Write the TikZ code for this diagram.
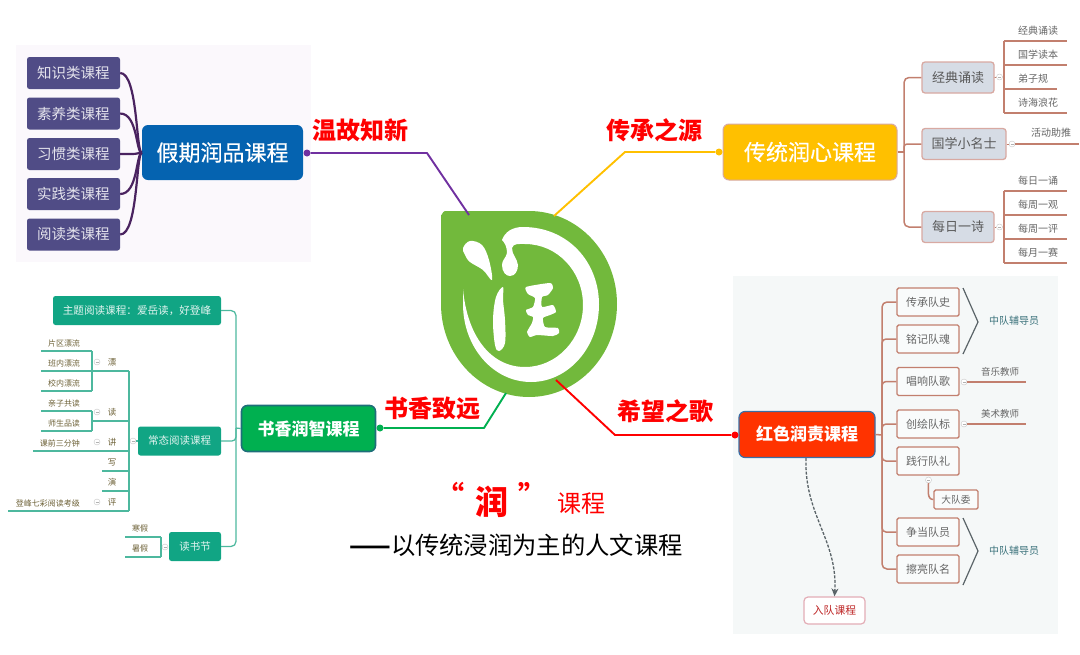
\documentclass[tikz,border=0pt]{standalone}
\usepackage{fontspec}
\setmainfont{Noto Sans CJK SC}
\newfontfamily\brushfont[AutoFakeSlant=0.25]{Noto Sans CJK SC}
\newfontfamily\semifont[FakeBold=0.5]{Noto Sans CJK SC}
\newcommand{\fsz}[1]{\fontsize{#1}{#1}\selectfont}
\definecolor{logogreen}{HTML}{72B93C}
\definecolor{planbg}{HTML}{FBF8FC}
\definecolor{planbox}{HTML}{504C86}
\definecolor{planline}{HTML}{4A2360}
\definecolor{planhub}{HTML}{0563B0}
\definecolor{linkpurple}{HTML}{7030A0}
\definecolor{hubamber}{HTML}{FFC000}
\definecolor{rustline}{HTML}{C27F6E}
\definecolor{rustpale}{HTML}{D8A9A2}
\definecolor{slatebox}{HTML}{D6DCE5}
\definecolor{tealbox}{HTML}{11A584}
\definecolor{tealline}{HTML}{4DB89E}
\definecolor{oliveink}{HTML}{6E6238}
\definecolor{hubgreen}{HTML}{00B050}
\definecolor{hubedge}{HTML}{1F6E7A}
\definecolor{redpanel}{HTML}{F5F8F8}
\definecolor{redhub}{HTML}{FF3300}
\definecolor{redhubedge}{HTML}{3A6EA5}
\definecolor{chevron}{HTML}{5A6468}
\usetikzlibrary{arrows.meta}
\begin{document}
\begin{tikzpicture}[x=1pt, y=-1pt]
    \tikzstyle{hubbox} = [rectangle, rounded corners=6, text=white, inner sep=0, minimum height=46, font=\bfseries\fsz{17}]
    \tikzstyle{motto} = [text=red, inner sep=0, font=\bfseries\fsz{24}]
    \tikzstyle{link} = [line width=1.9, line join=round]
    \tikzstyle{dot} = [circle, inner sep=0, minimum size=7]
    \tikzstyle{plan} = [rectangle, rounded corners=2.5, fill=planbox, text=white!85!planbox, inner sep=0, minimum width=93, minimum height=32, font=\fsz{14.5}]
    \tikzstyle{slate} = [rectangle, rounded corners=3, fill=slatebox, draw=rustpale, line width=1.3, text=black!65, inner sep=0, minimum height=31, font=\fsz{13}]
    \tikzstyle{rust} = [rustline, line width=1.5]
    \tikzstyle{leaf} = [text=black!60, inner sep=0, font=\fsz{10}]
    \tikzstyle{fold} = [circle, draw=gray!45, fill=white, line width=.4, inner sep=0, minimum size=6, path picture={\draw[gray!60, line width=.4] ([xshift=1.5]path picture bounding box.west) -- ([xshift=-1.5]path picture bounding box.east);}]
    \tikzstyle{teal} = [rectangle, rounded corners=2.5, fill=tealbox, text=white!88!tealbox, inner sep=0, minimum height=29, font=\fsz{10.5}]
    \tikzstyle{tline} = [tealline, line width=1.25]
    \tikzstyle{twig} = [text=oliveink, inner sep=0, font=\fsz{8}]
    \tikzstyle{duty} = [rectangle, rounded corners=1.5, draw=rustline, fill=white!40!redpanel, line width=1.4, text=black!60, inner sep=0, minimum width=62, minimum height=28, font=\fsz{11}]
    \tikzstyle{teacher} = [text=black!60, inner sep=0, font=\fsz{9.5}]
    \tikzstyle{tutor} = [text=hubedge!70!gray, inner sep=0, font=\fsz{10}]

    \useasboundingbox (0,0) rectangle (1080,654);
    \fill[planbg] (16,45) rectangle (311,262);
    \fill[redpanel] (733,276) rectangle (1058,634);

    % logo
    \fill[logogreen] (441,304) -- (441,215) to[out=-90, in=180] (445,211) -- (529,211) .. controls (577.6,211) and (617,252.6) .. (617,304) .. controls (617,355.4) and (577.6,397) .. (529,397) .. controls (480.4,397) and (441,355.4) .. (441,304) -- cycle;
    \fill[white] (463,289) -- (463,304) .. controls (463,347) and (493,382) .. (531,382) .. controls (568.5,382) and (599,347) .. (599,304.5) .. controls (599,262) and (568,227) .. (523,227) .. controls (512,227) and (505,232) .. (502,240) .. controls (505,243) and (507,247) .. (507,253) .. controls (506,258) and (502,260) .. (502,265) .. controls (502,272) and (506,276) .. (510,276) .. controls (515,276) and (518,271) .. (518,265) .. controls (517,258) and (512,255) .. (512,248) .. controls (513,243) and (520,244) .. (525,244) .. controls (557,244) and (583,271) .. (583,305) .. controls (583,339) and (557,367) .. (525,367) .. controls (490,367) and (467,335) .. (463,289) -- cycle;
    \fill[white] plot[smooth cycle, tension=.6] coordinates {(463,248) (470,241) (482,245) (489,260) (492,280) (483,270) (470,262) (465,255)};
    \fill[white] plot[smooth cycle, tension=.6] coordinates {(503,287) (496,297) (493,320) (495,345) (499,351) (505,343) (505,320) (503,300)};
    \fill[white] plot[smooth cycle, tension=.35] coordinates {(526,287) (550,283) (553,288) (548,295) (542,297) (542,307) (553,305) (556,312) (550,315) (543,318) (545,327) (558,328) (559,333) (553,336) (537,335) (530,337) (527,332) (532,323) (533,317) (528,315) (526,310) (533,307) (535,298) (528,294)};

    % holiday course
    \node[hubbox, fill=planhub, minimum width=161, minimum height=55, font=\semifont\fsz{22}] (jqhub) at (222.5,152.5) {假期润品课程};
    \foreach \n/\y/\t in {zs/73/知识类课程, sy/113.5/素养类课程, xg/154/习惯类课程, sj/194/实践类课程, yd/234.5/阅读类课程} {
        \node[plan] (\n) at (73.5,\y) {\t};
        \draw[planline, line width=2.2] (jqhub.west) .. controls (136,154) and (138,\y) .. (\n.east);
    }
    \node[dot, fill=linkpurple] (jqdot) at (307,153) {};
    \coordinate (jqbend) at (427,153);
    \coordinate (jqend) at (469,215);
    \draw[link, linkpurple] (jqdot) -- (jqbend) -- (jqend);
    \node[motto] (jqtag) at (360,130) {温故知新};

    % traditional course
    \node[hubbox, fill=hubamber, minimum width=174, minimum height=56, draw=rustpale, line width=1, font=\semifont\fsz{22}] (cthub) at (810,152) {传统润心课程};
    \node[dot, fill=hubamber] (ctdot) at (719,152) {};
    \coordinate (ctbend) at (625,152);
    \coordinate (ctend) at (554,216);
    \draw[link, hubamber] (ctdot) -- (ctbend) -- (ctend);
    \node[motto] (cttag) at (654,130) {传承之源};

    \node[slate, minimum width=72] (jd) at (958,77.5) {经典诵读};
    \node[slate, minimum width=84] (gx) at (964,144) {国学小名士};
    \node[slate, minimum width=72] (mr) at (958,227) {每日一诗};
    \coordinate (cttrunk) at (904,152);
    \draw[rust] (cthub.east) -- (cttrunk);
    \draw[rust, rounded corners=5] (jd.west) -| (cttrunk) |- (mr.west);
    \draw[rust, rounded corners=3] (cttrunk) |- (gx.west);

    \node[fold] (jdfold) at (999.5,77) {};
    \node[fold] (gxfold) at (1012,144) {};
    \node[fold] (mrfold) at (999.5,227) {};
    \draw[rust, line width=.8] (jd.east) -- (jdfold);
    \draw[rust, line width=.8] (gx.east) -- (gxfold);
    \draw[rust, line width=.8] (mr.east) -- (mrfold);

    \coordinate (jdrail) at (1004,77);
    \foreach \n/\y/\xe/\t in {a/41/1067/经典诵读, b/65/1067/国学读本, c/89/1057/弟子规, d/113/1067/诗海浪花} {
        \node[leaf, anchor=west] (jd\n) at (1018,\y-10) {\t};
        \coordinate (jd\n s) at (1004,\y);
        \coordinate (jd\n e) at (\xe,\y);
        \draw[rust] (jd\n s) -- (jd\n e);
    }
    \draw[rust] (jdas) -- (jdds);
    \draw[rust] (jdfold) -- (jdrail);
    \foreach \n/\y/\t in {a/191/每日一诵, b/215/每周一观, c/239/每周一评, d/263/每月一赛} {
        \node[leaf, anchor=west] (mr\n) at (1018,\y-10) {\t};
        \coordinate (mr\n s) at (1004,\y);
        \coordinate (mr\n e) at (1067,\y);
        \draw[rust] (mr\n s) -- (mr\n e);
    }
    \coordinate (mrrail) at (1004,227);
    \draw[rust] (mras) -- (mrds);
    \draw[rust] (mrfold) -- (mrrail);
    \coordinate (gxend) at (1079,144);
    \draw[rust] (gxfold) -- (gxend);
    \node[leaf] (gxleaf) at (1051,133) {活动助推};

    % reading course
    \node[hubbox, fill=hubgreen, draw=hubedge, line width=1.6, minimum width=134] (sxhub) at (308.5,428.5) {书香润智课程};
    \node[dot, fill=hubgreen] (sxdot) at (380,428) {};
    \coordinate (sxbend) at (484,428);
    \coordinate (sxend) at (506,393);
    \draw[link, hubgreen] (sxdot) -- (sxbend) -- (sxend);
    \node[motto] (sxtag) at (432,408) {书香致远};

    \node[teal, minimum width=168, font=\fsz{10.6}] (zt) at (137,310.5) {主题阅读课程：爱岳读，好登峰};
    \node[teal, minimum width=83] (cz) at (179.5,441) {常态阅读课程};
    \node[teal, minimum width=52] (dsj) at (195,546.5) {读书节};
    \coordinate (sxtrunk) at (236,428);
    \draw[tline, rounded corners=5] (zt.east) -| (sxtrunk) |- (dsj.east);
    \draw[tline] (sxhub.west) -- (sxtrunk);
    \draw[tline, rounded corners=4] (cz.east) -| (sxtrunk);

    \node[fold] (czfold) at (133,441) {};
    \coordinate (czrail) at (129,441);
    \draw[tline] (cz.west) -- (czfold) -- (czrail);
    \foreach \n/\y/\xs/\t in {pl/371/92/漂, dd/421/92/读, jj/451/33/讲, xx/471/102/写, yy/491/102/演, pp/511/8/评} {
        \node[twig, font=\fsz{8.5}] (\n) at (112,\y-9) {\t};
        \coordinate (\n s) at (\xs,\y);
        \coordinate (\n e) at (129,\y);
        \draw[tline] (\n s) -- (\n e);
    }
    \draw[tline] (ple) -- (ppe);
    \foreach \n/\y/\t in {pla/351/片区漂流, plb/371/班内漂流, plc/391/校内漂流, dda/411/亲子共读, ddb/431/师生品读} {
        \node[twig] (\n) at (64,\y-8) {\t};
        \coordinate (\n s) at (41,\y);
        \coordinate (\n e) at (92,\y);
        \draw[tline] (\n s) -- (\n e);
    }
    \draw[tline] (plae) -- (plce);
    \draw[tline] (ddae) -- (ddbe);
    \node[twig, anchor=east] (jjleaf) at (80,443) {课前三分钟};
    \node[twig, anchor=east] (ppleaf) at (80,503) {登峰七彩阅读考级};
    \foreach \n/\y in {pl/362, dd/412, jj/442, pp/502} {
        \node[fold] (\n fold) at (97,\y) {};
    }
    \foreach \n/\y/\t in {hj/537/寒假, sj/557/暑假} {
        \node[twig] (\n leaf) at (140,\y-9) {\t};
        \coordinate (\n s) at (125,\y);
        \coordinate (\n e) at (161,\y);
        \draw[tline] (\n s) -- (\n e);
    }
    \draw[tline] (hje) -- (sje);
    \node[fold] (dsjfold) at (165,547) {};

    % red course
    \node[hubbox, fill=redhub, draw=redhubedge, line width=1.2, minimum width=136] (hshub) at (807,434.5) {红色润责课程};
    \node[dot, fill=red] (hsdot) at (735,435) {};
    \coordinate (hsbend) at (615,435);
    \coordinate (hsend) at (556,380);
    \draw[link, red] (hsdot) -- (hsbend) -- (hsend);
    \node[motto] (hstag) at (665,411) {希望之歌};

    \foreach \n/\y/\t in {cc/302/传承队史, mj/339/铭记队魂, cx/381.5/唱响队歌, ch/424/创绘队标, sx/461/践行队礼, zd/532/争当队员, cl/569/擦亮队名} {
        \node[duty] (\n) at (928,\y) {\t};
    }
    \coordinate (hstrunk) at (882,435);
    \draw[rust] (hshub.east) -- (hstrunk);
    \draw[rust, rounded corners=5] (cc.west) -| (hstrunk) |- (cl.west);
    \foreach \n in {mj, cx, ch, sx, zd} {
        \draw[rust, rounded corners=4] (hstrunk) |- (\n.west);
    }
    \coordinate (cvat) at (963,288);
    \coordinate (cvam) at (978,322);
    \coordinate (cvab) at (963,354);
    \coordinate (cvbt) at (963,518);
    \coordinate (cvbm) at (978,551);
    \coordinate (cvbb) at (963,585);
    \draw[chevron, line width=1.2] (cvat) -- (cvam) -- (cvab);
    \draw[chevron, line width=1.2] (cvbt) -- (cvbm) -- (cvbb);
    \node[tutor] (tutora) at (1014,321) {中队辅导员};
    \node[tutor] (tutorb) at (1014,551) {中队辅导员};

    \node[fold] (cxfold) at (964,382) {};
    \node[fold] (chfold) at (964,424) {};
    \coordinate (cxend) at (1026,382);
    \coordinate (chend) at (1026,424);
    \draw[rust] (cxfold) -- (cxend);
    \draw[rust] (chfold) -- (chend);
    \node[teacher] (cxleaf) at (1000,372) {音乐教师};
    \node[teacher] (chleaf) at (1000,414) {美术教师};

    \node[fold] (sxfold) at (928.5,480) {};
    \node[duty, minimum width=44, minimum height=19, font=\fsz{9.7}] (ddw) at (956,499.5) {大队委};
    \draw[rust] (sxfold) to[out=-90, in=180] (ddw.west);

    \node[rectangle, rounded corners=4, draw=rustpale!70!purple!60, fill=white, line width=1.2, text=red!70!black!85, inner sep=0, minimum width=61, minimum height=27, font=\fsz{10.8}] (rd) at (834.5,610.5) {入队课程};
    \draw[chevron, line width=1.3, dash pattern=on 3pt off 1.5pt, -{Stealth[length=8pt, width=7pt]}] (hshub.south) ++(-1,0) .. controls (804,515) and (838,540) .. (rd.north);

    % title
    \node[text=red, inner sep=0, font=\brushfont\bfseries\itshape\fsz{33}] (titlerun) at (492,502) {润};
    \node[text=red, inner sep=0, font=\brushfont\bfseries\itshape\fsz{28}] (titlel) at (450,494) {“};
    \node[text=red, inner sep=0, font=\brushfont\bfseries\itshape\fsz{28}] (titler) at (532,494) {”};
    \node[text=red, inner sep=0, font=\fsz{24}] (titlecourse) at (581,504) {课程};
    \node[text=black, inner sep=0, font=\fsz{24.3}] (subtitle) at (516,545) {{\bfseries ——}以传统浸润为主的人文课程};
\end{tikzpicture}
\end{document}
